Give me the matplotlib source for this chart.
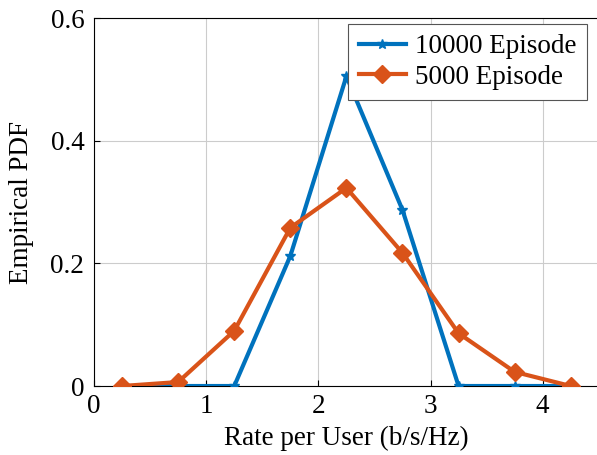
import matplotlib.pyplot as plt
import numpy as np

plt.rcParams['font.family'] = ['Liberation Serif', 'DejaVu Serif']
plt.rcParams['mathtext.fontset'] = 'stix'

rate = [0.25, 0.75, 1.25, 1.75, 2.25, 2.75, 3.25, 3.75, 4.25]
pdf_10000 = [0.0, 0.0, 0.0, 0.212, 0.505, 0.287, 0.0, 0.0, 0.0]
pdf_5000 = [0.0, 0.0065, 0.09, 0.258, 0.323, 0.217, 0.086, 0.023, 0.0]

fs = 19.5

fig = plt.figure(figsize=(5.97, 4.55), dpi=100)
ax = fig.add_axes([0.1575, 0.1516, 0.8455, 0.8088])

ax.plot(rate, pdf_10000, '-', color='#0072BD', linewidth=3, marker='*',
        markersize=7, label='10000 Episode', zorder=3)
ax.plot(rate, pdf_5000, '-', color='#D95319', linewidth=3, marker='D',
        markersize=9, label='5000 Episode', zorder=4)

ax.set_xlim(0, 4.5)
ax.set_ylim(0, 0.6)
ax.set_xticks([0, 1, 2, 3, 4])
ax.set_yticks([0, 0.2, 0.4, 0.6])
ax.set_yticklabels(['0', '0.2', '0.4', '0.6'])
ax.tick_params(direction='in', labelsize=fs, length=4)
ax.tick_params(axis='y', pad=7)
ax.tick_params(axis='x', pad=6)
ax.grid(True, color='#cccccc', linewidth=0.8)
ax.set_axisbelow(True)

ax.set_xlabel('Rate per User (b/s/Hz)', fontsize=fs, labelpad=5)
ax.set_ylabel('Empirical PDF', fontsize=fs, labelpad=12)

leg = ax.legend(loc='upper right', bbox_to_anchor=(0.977, 0.984), fontsize=fs,
                fancybox=False, edgecolor='#555555', framealpha=1,
                handlelength=1.75, handletextpad=0.35, borderpad=0.38,
                labelspacing=0.2, borderaxespad=0.0)
leg.get_frame().set_linewidth(0.8)

fig.savefig('out.png', dpi=100)
